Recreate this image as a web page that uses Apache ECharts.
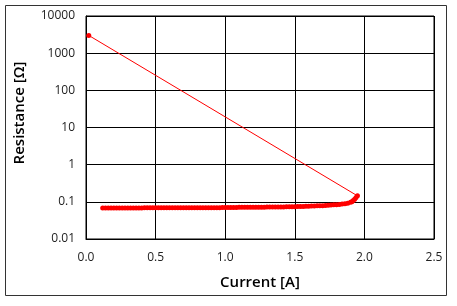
<!DOCTYPE html>
<html><head><meta charset="utf-8">
<script src="https://cdn.jsdelivr.net/npm/echarts@6/dist/echarts.min.js"></script>
<style>html,body{margin:0;padding:0;background:#fff}#c{width:457px;height:306px}</style>
</head><body><div id="c"></div>
<script>
var xTicks = [0.0, 0.5, 1.0, 1.5, 2.0, 2.5];
var yTicks = [0.01, 0.1, 1, 10, 100, 1000, 10000];
var xTitle = 'Current [A]';
var yTitle = 'Resistance [Ω]';
var current = [0.02, 1.95, 1.94, 1.93, 1.92, 1.91, 1.90,
 1.88, 1.86, 1.84, 1.82, 1.80, 1.78, 1.76, 1.74, 1.72, 1.70,
 1.68, 1.66, 1.64, 1.62, 1.60, 1.58, 1.56, 1.54, 1.52, 1.50,
 1.48, 1.46, 1.44, 1.42, 1.40, 1.38, 1.36, 1.34, 1.32, 1.30,
 1.28, 1.26, 1.24, 1.22, 1.20, 1.18, 1.16, 1.14, 1.12, 1.10,
 1.08, 1.06, 1.04, 1.02, 1.00, 0.98, 0.96, 0.94, 0.92, 0.90,
 0.88, 0.86, 0.84, 0.82, 0.80, 0.78, 0.76, 0.74, 0.72, 0.70,
 0.68, 0.66, 0.64, 0.62, 0.60, 0.58, 0.56, 0.54, 0.52, 0.50,
 0.48, 0.46, 0.44, 0.42, 0.40, 0.38, 0.36, 0.34, 0.32, 0.30,
 0.28, 0.26, 0.24, 0.22, 0.20, 0.18, 0.16, 0.14, 0.12];
var resistance = [3000, 0.145, 0.13, 0.118, 0.108, 0.101, 0.097,
 0.092, 0.089, 0.087, 0.085, 0.084, 0.083, 0.082, 0.081, 0.080, 0.079,
 0.078, 0.078, 0.077, 0.077, 0.076, 0.076, 0.075, 0.075, 0.075, 0.074,
 0.074, 0.074, 0.074, 0.073, 0.073, 0.073, 0.073, 0.073, 0.073, 0.073,
 0.072, 0.072, 0.072, 0.072, 0.072, 0.072, 0.072, 0.072, 0.072, 0.072,
 0.070, 0.070, 0.070, 0.070, 0.070, 0.070, 0.069, 0.069, 0.069, 0.069,
 0.069, 0.069, 0.069, 0.069, 0.069, 0.069, 0.069, 0.069, 0.069, 0.069,
 0.069, 0.069, 0.069, 0.069, 0.069, 0.069, 0.069, 0.069, 0.069, 0.069,
 0.069, 0.069, 0.069, 0.069, 0.068, 0.068, 0.068, 0.068, 0.068, 0.068,
 0.068, 0.068, 0.068, 0.068, 0.068, 0.068, 0.068, 0.068, 0.068];
var data = current.map(function(c, i){ return [c, resistance[i]]; });
var FONT = '"Open Sans", "DejaVu Sans", sans-serif';
var chart = echarts.init(document.getElementById('c'));
chart.setOption({
  animation: false,
  backgroundColor: '#fff',
  graphic: [
    {type:'rect', shape:{x:5.5, y:5.5, width:441, height:290}, style:{fill:'none', stroke:'#333', lineWidth:1}, silent:true},
    {type:'text', x:260, y:283, style:{text: xTitle, font:'600 15px ' + FONT, fill:'#000', textAlign:'center', textVerticalAlign:'middle'}},
    {type:'text', x:20, y:113, rotation: Math.PI/2, style:{text: yTitle, font:'600 15px ' + FONT, fill:'#000', textAlign:'center', textVerticalAlign:'middle'}}
  ],
  grid: {left: 86, right: 23, top: 16, bottom: 67, show: true, borderColor: '#000', borderWidth: 1},
  xAxis: {
    type: 'value', min: xTicks[0], max: xTicks[xTicks.length-1], interval: 0.5,
    axisLine: {show: true, lineStyle: {color: '#000'}}, axisTick: {show: false},
    axisLabel: {fontFamily: FONT, fontSize: 12, color: '#222', margin: 13, formatter: function(v){return v.toFixed(1);}},
    splitLine: {show: true, lineStyle: {color: '#000', width: 1}}
  },
  yAxis: {
    type: 'log', min: yTicks[0], max: yTicks[yTicks.length-1], logBase: 10,
    axisLine: {show: true, lineStyle: {color: '#000'}}, axisTick: {show: false},
    axisLabel: {fontFamily: FONT, fontSize: 12, color: '#222', margin: 11, formatter: function(v){ return String(+v.toPrecision(3)); }},
    splitLine: {show: true, lineStyle: {color: '#000', width: 1}}
  },
  series: [{
    type: 'line', data: data, symbol: 'circle', symbolSize: 5,
    lineStyle: {color: '#ff0000', width: 1}, itemStyle: {color: '#ff0000'}
  }]
});
</script></body></html>
